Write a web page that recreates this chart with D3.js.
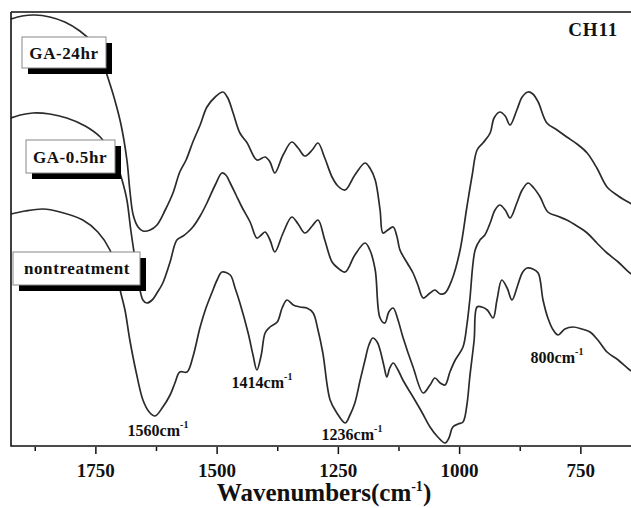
<!DOCTYPE html>
<html><head><meta charset="utf-8">
<script src="https://cdn.jsdelivr.net/npm/d3@7/dist/d3.min.js"></script>
<style>body{margin:0;background:#fff}svg{display:block}text{font-family:"Liberation Serif","Times New Roman",serif;font-weight:bold;fill:#111}</style>
</head><body><svg id="c" width="631" height="508"></svg>
<script>
// ---- data (wavenumber cm^-1, absorbance a.u. with offsets) ----
const ga24Wave = [1925,1902,1876,1845,1814,1783,1758,1741,1727,1711,1698,1686,1680,1673,1663,1653,1638,1624,1607,1591,1577,1564,1550,1535,1521,1504,1488,1478,1467,1453,1438,1418,1401,1391,1381,1364,1346,1333,1319,1304,1292,1278,1263,1251,1236,1216,1195,1185,1174,1164,1158,1148,1137,1129,1123,1108,1096,1086,1075,1061,1051,1040,1030,1016,999,985,974,964,952,937,929,917,906,896,882,871,859,849,838,820,799,779,758,737,717,696,673,649,641];
const ga24Val = [4.27,4.30,4.31,4.29,4.24,4.15,4.04,3.91,3.71,3.46,3.21,2.86,2.56,2.31,2.19,2.15,2.16,2.21,2.36,2.53,2.74,2.86,3.04,3.21,3.39,3.49,3.54,3.48,3.33,3.13,3.03,2.86,2.89,2.84,2.73,2.91,3.04,2.98,2.90,2.96,3.03,2.88,2.69,2.60,2.56,2.71,2.83,2.78,2.66,2.36,2.13,2.16,2.19,2.09,1.96,1.83,1.73,1.61,1.48,1.53,1.56,1.52,1.53,1.66,1.96,2.39,2.71,2.96,3.03,3.13,3.28,3.34,3.30,3.21,3.36,3.49,3.54,3.52,3.44,3.23,3.16,3.09,3.02,2.93,2.78,2.59,2.50,2.43,2.41];

const ga05Wave = [1925,1906,1880,1845,1810,1772,1741,1721,1704,1696,1686,1678,1669,1661,1653,1645,1634,1624,1612,1597,1583,1570,1560,1550,1535,1521,1504,1490,1482,1473,1461,1449,1432,1418,1409,1401,1391,1381,1364,1346,1333,1319,1304,1292,1278,1263,1251,1236,1216,1195,1185,1174,1164,1154,1146,1137,1127,1117,1096,1075,1061,1051,1040,1030,1020,1009,993,985,979,968,958,948,937,927,917,906,896,882,871,859,847,834,818,799,779,758,737,717,696,673,649,641];
const ga05Val = [3.28,3.31,3.33,3.32,3.28,3.20,3.09,2.96,2.78,2.66,2.46,2.16,1.86,1.61,1.46,1.43,1.46,1.53,1.63,1.84,2.06,2.10,2.14,2.19,2.30,2.43,2.61,2.73,2.71,2.63,2.51,2.39,2.24,2.08,2.11,2.14,2.06,1.94,2.13,2.29,2.22,2.13,2.20,2.26,2.06,1.84,1.78,1.74,1.91,2.03,1.96,1.76,1.28,1.23,1.34,1.38,1.26,1.09,0.79,0.53,0.61,0.68,0.63,0.61,0.74,0.86,0.99,1.21,1.46,1.96,2.06,2.11,2.23,2.36,2.41,2.36,2.28,2.43,2.56,2.63,2.58,2.49,2.34,2.30,2.26,2.20,2.13,2.03,1.93,1.84,1.73,1.71];

const nonWave = [1925,1896,1859,1824,1777,1746,1721,1709,1700,1690,1680,1667,1653,1640,1628,1612,1597,1587,1577,1562,1550,1535,1523,1511,1500,1490,1473,1463,1453,1436,1426,1418,1409,1401,1391,1376,1366,1356,1343,1329,1315,1302,1292,1282,1267,1253,1236,1226,1216,1205,1195,1187,1179,1170,1164,1156,1150,1144,1137,1127,1117,1096,1078,1061,1045,1030,1022,1014,1003,993,985,979,970,964,954,943,931,923,913,902,892,880,871,861,849,838,828,818,807,797,783,766,748,731,715,696,673,649,641];
const nonVal = [2.32,2.35,2.37,2.34,2.26,2.14,1.96,1.78,1.56,1.36,1.06,0.74,0.46,0.34,0.30,0.39,0.51,0.63,0.74,0.74,0.89,1.19,1.38,1.53,1.66,1.74,1.71,1.58,1.43,1.13,0.91,0.76,0.91,1.13,1.19,1.24,1.38,1.46,1.41,1.39,1.38,1.33,1.16,0.93,0.46,0.33,0.23,0.31,0.43,0.66,0.86,1.01,1.08,1.04,0.96,0.80,0.69,0.78,0.83,0.76,0.66,0.49,0.34,0.19,0.09,0.03,0.08,0.19,0.22,0.24,0.41,0.69,1.06,1.39,1.39,1.36,1.28,1.46,1.66,1.58,1.46,1.61,1.73,1.78,1.77,1.73,1.46,1.28,1.16,1.11,1.17,1.19,1.17,1.14,1.06,0.94,0.86,0.76,0.74];

const seriesNames = ["GA-24hr","GA-0.5hr","nontreatment"];
const majorTicks = [1750,1500,1250,1000,750];
const minorTicks = [1875,1625,1375,1125,875];
const peakLabels = ["1560","1414","1236","800"];
const panelLabel = "CH11";
const xTitle = "Wavenumbers(cm";

// ---- layout ----
const svg = d3.select("#c");
const L = 11, T = 12, B = 446;
const x = d3.scaleLinear().domain([1925, 640]).range([L, 634.2]);
const y = d3.scaleLinear().domain([0, 4.34]).range([B, T]);

const series = [
  {name: seriesNames[0], w: ga24Wave, v: ga24Val},
  {name: seriesNames[1], w: ga05Wave, v: ga05Val},
  {name: seriesNames[2], w: nonWave, v: nonVal}
];

svg.append("clipPath").attr("id","clip").append("rect")
  .attr("x", L).attr("y", T).attr("width", 640).attr("height", B - T);

const line = d3.line().x(d => x(d[0])).y(d => y(d[1])).curve(d3.curveCatmullRom.alpha(0.5));
const g = svg.append("g").attr("clip-path","url(#clip)");
series.forEach(s => {
  g.append("path").datum(s.w.map((w,i)=>[w, s.v[i]]))
    .attr("d", line).attr("fill","none").attr("stroke","#2b2b2b").attr("stroke-width",1.7);
});

// frame
svg.append("path").attr("d", `M${L},${T}H640M${L},${T}V${B}H640`)
  .attr("fill","none").attr("stroke","#111").attr("stroke-width",1.6);

// axis
const ax = svg.append("g").attr("transform",`translate(0,${B})`);
ax.selectAll(".maj").data(majorTicks).join("line")
  .attr("x1", d=>x(d)).attr("x2", d=>x(d)).attr("y1",1).attr("y2",8)
  .attr("stroke","#111").attr("stroke-width",1.5);
ax.selectAll(".mnr").data(minorTicks).join("line")
  .attr("x1", d=>x(d)).attr("x2", d=>x(d)).attr("y1",1).attr("y2",5)
  .attr("stroke","#111").attr("stroke-width",1.5);
ax.selectAll("text").data(majorTicks).join("text")
  .attr("x", d=>x(d)).attr("y", 31).attr("text-anchor","middle")
  .attr("font-size", 19).text(d=>d);

const tt = svg.append("text").attr("x", 324).attr("y", 501).attr("text-anchor","middle").attr("font-size",25);
tt.append("tspan").text(xTitle);
tt.append("tspan").attr("dy",-10).attr("font-size",14).text("-1");
tt.append("tspan").attr("dy",10).text(")");

// legend boxes
const boxes = [
  {x:22, y:37, w:84, h:31, tx:64, ty:59},
  {x:26, y:140, w:89, h:33, tx:70, ty:163},
  {x:13, y:252, w:127, h:33, tx:77, ty:274}
];
boxes.forEach((b,i)=>{
  svg.append("rect").attr("x", b.x+6).attr("y", b.y+6).attr("width", b.w).attr("height", b.h).attr("fill","#000");
  svg.append("rect").attr("x", b.x).attr("y", b.y).attr("width", b.w).attr("height", b.h)
    .attr("fill","#fff").attr("stroke","#888").attr("stroke-width",1);
  svg.append("text").attr("x", b.tx).attr("y", b.ty).attr("text-anchor","middle")
    .attr("font-size", 17).attr("letter-spacing", 0.6).text(series[i].name);
});

// peak annotations
const annPos = [[158,436],[262,388],[352,440],[557,363]];
peakLabels.forEach((p,i)=>{
  const t = svg.append("text").attr("x", annPos[i][0]).attr("y", annPos[i][1]).attr("text-anchor","middle").attr("font-size",16);
  t.append("tspan").text(p + "cm");
  t.append("tspan").attr("dy",-8).attr("font-size",10).text("-1");
});

svg.append("text").attr("x", 618).attr("y", 36).attr("text-anchor","end").attr("font-size",19).attr("letter-spacing",0.8).text(panelLabel);
</script></body></html>
